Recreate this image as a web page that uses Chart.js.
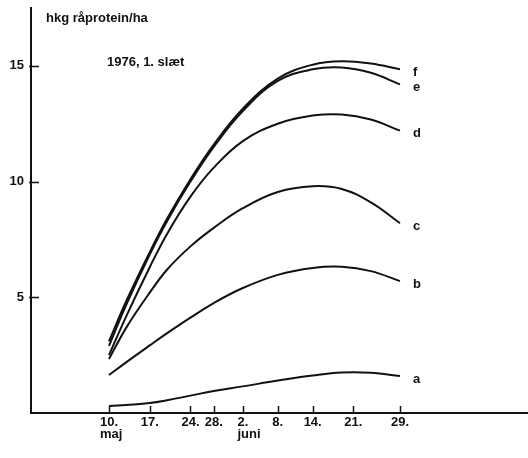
<!DOCTYPE html>
<html>
<head>
<meta charset="utf-8">
<script src="https://cdn.jsdelivr.net/npm/chart.js@4"></script>
<style>
  html, body { margin: 0; padding: 0; background: #fff; }
  #wrap { width: 528px; height: 458px; }
</style>
</head>
<body>
<div id="wrap"><canvas id="proteinChart"></canvas></div>
<script>
// ──────────────────────────────────────
// Data (days after 10. maj, hkg råprotein/ha)
// ──────────────────────────────────────

const days = [0, 3, 7, 10, 14, 18, 23, 29, 35, 40, 45, 50];

const seriesA = [0.30, 0.35, 0.43, 0.55, 0.75, 0.95, 1.15, 1.40, 1.62, 1.75, 1.74, 1.60];
const seriesB = [1.64, 2.20, 2.92, 3.45, 4.12, 4.75, 5.40, 5.97, 6.27, 6.32, 6.13, 5.70];
const seriesC = [2.33, 3.70, 5.20, 6.20, 7.20, 8.00, 8.85, 9.55, 9.80, 9.68, 9.10, 8.20];
const seriesD = [2.50, 4.20, 6.30, 7.75, 9.35, 10.60, 11.75, 12.50, 12.85, 12.90, 12.68, 12.20];
const seriesE = [2.90, 4.70, 6.85, 8.30, 10.00, 11.50, 13.05, 14.35, 14.85, 14.93, 14.70, 14.20];
const seriesF = [3.10, 4.85, 6.95, 8.40, 10.10, 11.60, 13.15, 14.45, 15.05, 15.20, 15.10, 14.85];

const curveNames = ['a', 'b', 'c', 'd', 'e', 'f'];
const curveValues = [seriesA, seriesB, seriesC, seriesD, seriesE, seriesF];

const xTickDays = [0, 7, 14, 18, 23, 29, 35, 42, 50];
const xTickLabels = ['10.', '17.', '24.', '28.', '2.', '8.', '14.', '21.', '29.'];
const monthDays = [0, 23];
const monthLabels = ['maj', 'juni'];

const yTicks = [5, 10, 15];

const unitLabel = 'hkg råprotein/ha';
const subTitle = '1976, 1. slæt';

// ──────────────────────────────────────
// Style
// ──────────────────────────────────────

const INK = '#111';
const FONT = "'Liberation Sans', Arial, sans-serif";
const FONT_SIZE = 13;

Chart.defaults.font.family = FONT;
Chart.defaults.font.size = FONT_SIZE;
Chart.defaults.font.weight = 'bold';
Chart.defaults.color = INK;

// inward tick marks, month names, curve letters, captions
const decorPlugin = {
    id: 'decor',
    afterDraw(chart) {
        const { ctx, chartArea, scales: { x, y } } = chart;
        ctx.save();
        ctx.strokeStyle = INK;
        ctx.lineWidth = 1.5;

        yTicks.forEach(v => {
            const py = Math.round(y.getPixelForValue(v)) + 0.5;
            ctx.beginPath();
            ctx.moveTo(chartArea.left - 2, py);
            ctx.lineTo(chartArea.left + 8, py);
            ctx.stroke();
        });

        xTickDays.forEach(d => {
            const px = Math.round(x.getPixelForValue(d)) + 0.5;
            ctx.beginPath();
            ctx.moveTo(px, chartArea.bottom);
            ctx.lineTo(px, chartArea.bottom - 7);
            ctx.stroke();
        });

        ctx.fillStyle = INK;
        ctx.font = 'bold ' + FONT_SIZE + 'px ' + FONT;
        ctx.textAlign = 'left';
        ctx.textBaseline = 'alphabetic';

        monthDays.forEach((d, i) => {
            const tickText = xTickLabels[xTickDays.indexOf(d)];
            const left = x.getPixelForValue(d) - ctx.measureText(tickText).width / 2;
            ctx.fillText(monthLabels[i], left, chartArea.bottom + 25);
        });

        ctx.textBaseline = 'middle';
        chart.data.datasets.forEach(ds => {
            const last = ds.data[ds.data.length - 1];
            ctx.fillText(ds.label, x.getPixelForValue(last.x) + 13, y.getPixelForValue(last.y) + 3);
        });

        ctx.textBaseline = 'alphabetic';
        ctx.fillText(unitLabel, chartArea.left + 15, 22);
        ctx.fillText(subTitle, x.getPixelForValue(0) - 2, 66);

        ctx.restore();
    }
};

// ──────────────────────────────────────
// Chart
// ──────────────────────────────────────

const datasets = curveNames.map((name, i) => ({
    label: name,
    data: days.map((d, j) => ({ x: d, y: curveValues[i][j] })),
    borderColor: INK,
    borderWidth: 2,
    pointRadius: 0,
    fill: false,
    tension: 0.4,
}));

new Chart(document.getElementById('proteinChart'), {
    type: 'line',
    data: { datasets },
    options: {
        responsive: true,
        maintainAspectRatio: false,
        animation: false,
        layout: { padding: { top: 8, right: 0, left: 0, bottom: 0 } },
        plugins: {
            legend: { display: false },
            tooltip: { enabled: false },
        },
        scales: {
            x: {
                type: 'linear',
                min: -13.4,
                max: 72,
                afterBuildTicks: scale => {
                    scale.ticks = xTickDays.map(v => ({ value: v }));
                },
                afterFit: scale => {
                    scale.height = 45;
                    scale.paddingLeft = 0;
                    scale.paddingRight = 0;
                },
                grid: { display: false, drawTicks: false },
                border: { display: true, color: INK, width: 2 },
                ticks: {
                    autoSkip: false,
                    maxRotation: 0,
                    padding: 2,
                    callback: value => {
                        const i = xTickDays.indexOf(value);
                        return i >= 0 ? xTickLabels[i] : '';
                    },
                },
            },
            y: {
                min: 0,
                max: 17.5,
                afterBuildTicks: scale => {
                    scale.ticks = yTicks.map(v => ({ value: v }));
                },
                afterFit: scale => {
                    scale.width = 31;
                    scale.paddingTop = 0;
                    scale.paddingBottom = 0;
                },
                grid: { display: false, drawTicks: false },
                border: { display: true, color: INK, width: 2 },
                ticks: {
                    padding: 7,
                    callback: value => String(value),
                },
            },
        },
    },
    plugins: [decorPlugin],
});
</script>
</body>
</html>
